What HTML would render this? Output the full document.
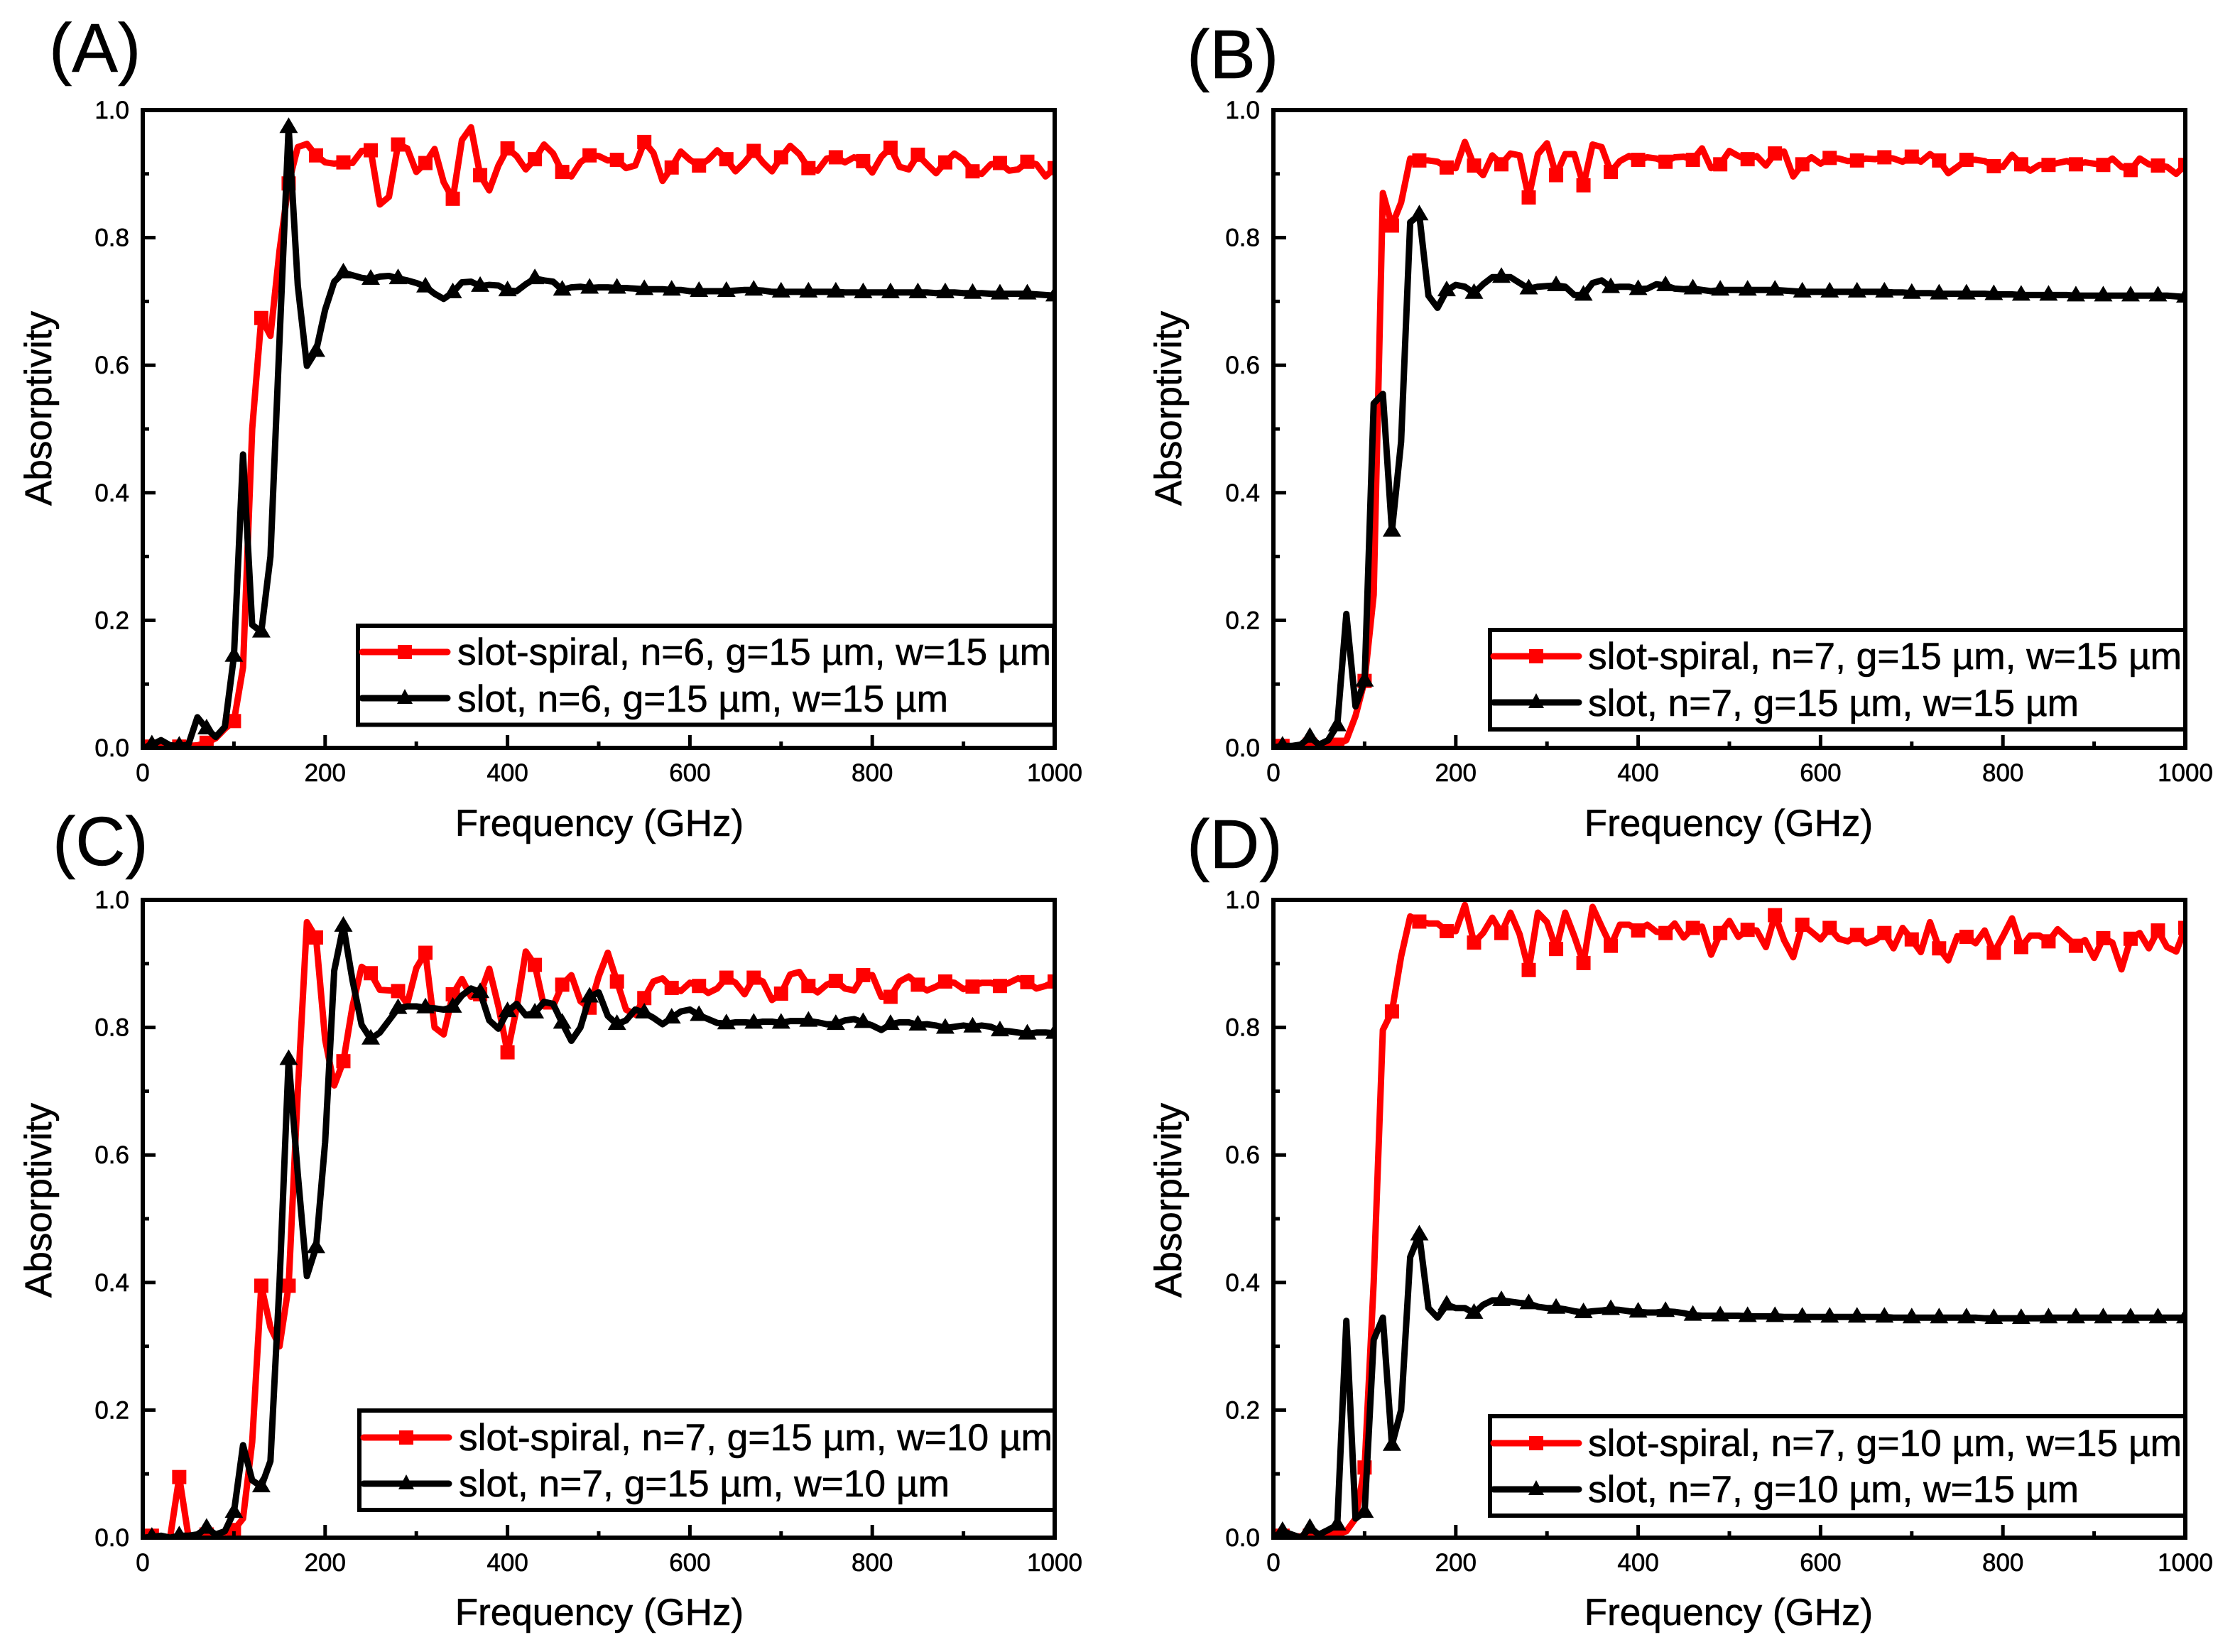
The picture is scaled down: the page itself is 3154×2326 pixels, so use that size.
<!DOCTYPE html>
<html lang="en">
<head>
<meta charset="utf-8">
<title>Absorptivity vs frequency, four panels</title>
<style>
html,body{margin:0;padding:0;background:#fff}
svg{display:block}
text{font-family:"Liberation Sans",Arial,sans-serif;fill:#000;stroke:#000;stroke-width:.6px}
.panel-label{font-size:97px}
.axis-title{font-size:53px}
.legend-text{font-size:53.3px}
.tick-label{font-size:35px}
.legend-box{fill:#fff;stroke:#000;stroke-width:6}
.leg-line{stroke-width:9;stroke-linecap:round}
</style>
</head>
<body>
<svg id="figure" xmlns="http://www.w3.org/2000/svg" width="3154" height="2326" viewBox="0 0 3154 2326">
<rect width="3154" height="2326" fill="#fff"/>
<defs>
<clipPath id="clip-a"><rect x="201" y="155" width="1284" height="898"/></clipPath>
<clipPath id="clip-b"><rect x="1793" y="155" width="1284" height="898"/></clipPath>
<clipPath id="clip-c"><rect x="201" y="1267" width="1284" height="898"/></clipPath>
<clipPath id="clip-d"><rect x="1793" y="1267" width="1284" height="898"/></clipPath>
</defs>

<g id="panel-a">
<g class="plot-layer"></g>
<text class="panel-label" x="69" y="101">(A)</text>
<text class="axis-title" x="844" y="1177" text-anchor="middle">Frequency (GHz)</text>
<text class="axis-title" transform="translate(72 575) rotate(-90)" text-anchor="middle">Absorptivity</text>
<g>
<rect class="legend-box" x="504" y="881" width="980" height="139.5"/>
<line class="leg-line" x1="510" y1="918" x2="630" y2="918" stroke="#f00"/>
<rect x="560" y="908" width="20" height="20" fill="#f00"/>
<text class="legend-text" x="644" y="936">slot-spiral, n=6, g=15 µm, w=15 µm</text>
<line class="leg-line" x1="510" y1="983" x2="630" y2="983" stroke="#000"/>
<polygon points="570,970 559,991 581,991" fill="#000"/>
<text class="legend-text" x="644" y="1002">slot, n=6, g=15 µm, w=15 µm</text>
</g>
</g>

<g id="panel-b">
<g class="plot-layer"></g>
<text class="panel-label" x="1671" y="110">(B)</text>
<text class="axis-title" x="2434" y="1177" text-anchor="middle">Frequency (GHz)</text>
<text class="axis-title" transform="translate(1663 575) rotate(-90)" text-anchor="middle">Absorptivity</text>
<g>
<rect class="legend-box" x="2098" y="887" width="979" height="140"/>
<line class="leg-line" x1="2103" y1="924" x2="2223" y2="924" stroke="#f00"/>
<rect x="2153" y="914" width="20" height="20" fill="#f00"/>
<text class="legend-text" x="2236" y="942">slot-spiral, n=7, g=15 µm, w=15 µm</text>
<line class="leg-line" x1="2103" y1="989" x2="2223" y2="989" stroke="#000"/>
<polygon points="2163,976 2152,997 2174,997" fill="#000"/>
<text class="legend-text" x="2236" y="1008">slot, n=7, g=15 µm, w=15 µm</text>
</g>
</g>

<g id="panel-c">
<g class="plot-layer"></g>
<text class="panel-label" x="74" y="1218">(C)</text>
<text class="axis-title" x="844" y="2288" text-anchor="middle">Frequency (GHz)</text>
<text class="axis-title" transform="translate(72 1690) rotate(-90)" text-anchor="middle">Absorptivity</text>
<g>
<rect class="legend-box" x="506" y="1986" width="979" height="140"/>
<line class="leg-line" x1="512" y1="2024" x2="632" y2="2024" stroke="#f00"/>
<rect x="562" y="2014" width="20" height="20" fill="#f00"/>
<text class="legend-text" x="646" y="2042">slot-spiral, n=7, g=15 µm, w=10 µm</text>
<line class="leg-line" x1="512" y1="2089" x2="632" y2="2089" stroke="#000"/>
<polygon points="572,2076 561,2097 583,2097" fill="#000"/>
<text class="legend-text" x="646" y="2107">slot, n=7, g=15 µm, w=10 µm</text>
</g>
</g>

<g id="panel-d">
<g class="plot-layer"></g>
<text class="panel-label" x="1671" y="1222">(D)</text>
<text class="axis-title" x="2434" y="2288" text-anchor="middle">Frequency (GHz)</text>
<text class="axis-title" transform="translate(1663 1690) rotate(-90)" text-anchor="middle">Absorptivity</text>
<g>
<rect class="legend-box" x="2098" y="1994" width="979" height="140"/>
<line class="leg-line" x1="2103" y1="2032" x2="2223" y2="2032" stroke="#f00"/>
<rect x="2153" y="2022" width="20" height="20" fill="#f00"/>
<text class="legend-text" x="2236" y="2050">slot-spiral, n=7, g=10 µm, w=15 µm</text>
<line class="leg-line" x1="2103" y1="2097" x2="2223" y2="2097" stroke="#000"/>
<polygon points="2163,2084 2152,2105 2174,2105" fill="#000"/>
<text class="legend-text" x="2236" y="2115">slot, n=7, g=10 µm, w=15 µm</text>
</g>
</g>
</svg>

<script>
const frequencies = [
0,10,20,30,40,50,60,70,80,90,
100,110,120,130,140,150,160,170,180,190,
200,210,220,230,240,250,260,270,280,290,
300,310,320,330,340,350,360,370,380,390,
400,410,420,430,440,450,460,470,480,490,
500,510,520,530,540,550,560,570,580,590,
600,610,620,630,640,650,660,670,680,690,
700,710,720,730,740,750,760,770,780,790,
800,810,820,830,840,850,860,870,880,890,
900,910,920,930,940,950,960,970,980,990,
1000];

const panelASlotSpiral = [
.000,.002,.001,.001,.002,.003,.004,.008,.015,.030,
.042,.126,.500,.674,.646,.780,.885,.942,.947,.929,
.918,.916,.918,.917,.936,.937,.852,.864,.946,.940,
.903,.917,.939,.887,.861,.953,.973,.898,.874,.913,
.940,.928,.907,.923,.946,.932,.903,.896,.918,.929,
.928,.921,.922,.909,.913,.950,.933,.889,.910,.935,
.922,.913,.922,.937,.923,.904,.918,.936,.918,.904,
.926,.944,.931,.909,.905,.924,.926,.918,.926,.920,
.902,.927,.941,.911,.907,.930,.915,.901,.918,.932,
.922,.904,.900,.915,.917,.905,.907,.919,.915,.896,
.909];
const panelASlot = [
.000,.005,.012,.004,.003,.005,.048,.030,.017,.033,
.144,.460,.193,.182,.300,.640,.973,.725,.599,.622,
.687,.731,.745,.741,.737,.735,.739,.740,.736,.733,
.729,.723,.712,.704,.714,.730,.731,.724,.726,.725,
.717,.716,.727,.736,.733,.731,.718,.722,.723,.721,
.722,.722,.721,.721,.720,.719,.719,.719,.718,.718,
.716,.716,.716,.716,.716,.717,.718,.718,.717,.715,
.715,.715,.715,.715,.715,.715,.715,.714,.714,.714,
.714,.714,.714,.714,.714,.714,.714,.713,.714,.714,
.713,.713,.713,.712,.712,.712,.712,.712,.711,.710,
.709];
const panelBSlotSpiral = [
.001,.003,.002,.002,.005,.003,.003,.005,.012,.050,
.105,.240,.870,.819,.855,.924,.921,.921,.919,.910,
.909,.950,.913,.898,.929,.915,.932,.929,.863,.931,
.948,.898,.931,.931,.882,.946,.942,.903,.920,.928,
.922,.926,.924,.919,.926,.927,.922,.940,.909,.915,
.936,.928,.923,.928,.913,.932,.935,.896,.915,.926,
.916,.925,.924,.920,.921,.924,.923,.926,.924,.919,
.927,.919,.931,.921,.901,.911,.922,.922,.920,.912,
.911,.930,.915,.905,.914,.914,.917,.920,.915,.918,
.916,.914,.924,.911,.906,.924,.915,.913,.911,.900,
.914];
const panelBSlot = [
.001,.003,.003,.005,.017,.005,.012,.035,.210,.065,
.105,.540,.555,.340,.480,.824,.836,.709,.690,.717,
.726,.723,.713,.727,.738,.738,.738,.729,.720,.723,
.724,.725,.723,.710,.710,.729,.733,.722,.723,.723,
.719,.720,.727,.725,.720,.719,.720,.718,.716,.718,
.718,.718,.718,.718,.718,.718,.717,.716,.715,.715,
.715,.715,.715,.715,.715,.715,.715,.715,.714,.714,
.713,.713,.713,.712,.712,.712,.712,.712,.712,.711,
.711,.711,.710,.710,.710,.710,.710,.710,.709,.709,
.709,.709,.709,.709,.709,.709,.709,.709,.709,.708,
.707];
const panelCSlotSpiral = [
.001,.003,.000,.000,.095,.003,.000,.005,.005,.008,
.012,.030,.150,.395,.330,.300,.395,.700,.965,.941,
.781,.709,.747,.833,.895,.885,.859,.858,.857,.837,
.893,.917,.800,.789,.852,.876,.848,.852,.892,.833,
.761,.830,.919,.898,.833,.833,.867,.882,.841,.831,
.880,.917,.872,.828,.820,.846,.872,.877,.862,.857,
.870,.865,.854,.861,.878,.870,.852,.878,.872,.843,
.853,.883,.887,.865,.855,.867,.873,.861,.858,.882,
.882,.848,.848,.872,.880,.867,.858,.864,.872,.870,
.860,.864,.870,.870,.865,.870,.877,.871,.861,.865,
.872];
const panelCSlot = [
.000,.001,.003,.000,.003,.003,.005,.015,.005,.010,
.040,.145,.090,.080,.120,.400,.750,.570,.410,.455,
.620,.889,.959,.874,.804,.782,.792,.811,.830,.833,
.833,.831,.830,.828,.832,.850,.861,.855,.811,.798,
.825,.837,.819,.823,.840,.837,.807,.779,.800,.848,
.855,.818,.805,.811,.828,.823,.815,.805,.815,.825,
.828,.819,.813,.807,.806,.808,.808,.807,.809,.809,
.807,.810,.810,.810,.808,.805,.805,.811,.813,.808,
.803,.796,.805,.808,.808,.804,.805,.803,.799,.801,
.803,.801,.803,.801,.795,.794,.792,.790,.792,.792,
.791];
const panelDSlotSpiral = [
.002,.003,.002,.002,.003,.003,.004,.006,.010,.030,
.110,.400,.796,.825,.911,.974,.966,.963,.963,.951,
.951,.992,.933,.948,.972,.948,.980,.946,.890,.980,
.965,.923,.980,.943,.901,.989,.958,.928,.961,.961,
.952,.961,.950,.948,.963,.941,.956,.958,.914,.948,
.967,.942,.953,.952,.926,.976,.937,.910,.961,.950,
.938,.956,.939,.935,.945,.932,.937,.948,.924,.956,
.938,.918,.965,.924,.905,.943,.942,.932,.952,.917,
.943,.971,.926,.944,.944,.935,.954,.941,.928,.937,
.909,.940,.933,.891,.939,.948,.924,.952,.926,.919,
.956];
const panelDSlot = [
.000,.010,.005,.000,.015,.005,.012,.020,.340,.030,
.040,.310,.345,.145,.200,.440,.475,.360,.345,.365,
.360,.360,.352,.365,.372,.372,.370,.368,.367,.362,
.360,.360,.358,.355,.353,.355,.356,.358,.357,.355,
.354,.353,.353,.355,.354,.352,.349,.348,.348,.348,
.348,.348,.347,.347,.347,.347,.346,.346,.346,.346,
.346,.346,.346,.346,.346,.346,.346,.346,.345,.345,
.345,.345,.345,.345,.345,.345,.345,.345,.344,.344,
.344,.344,.344,.344,.344,.345,.345,.345,.345,.345,
.345,.345,.345,.345,.345,.345,.345,.345,.345,.345,
.345];

const xMajorTicks = [0,200,400,600,800,1000];
const xMinorTicks = [100,300,500,700,900];
const yMajorTicks = ["0.0","0.2","0.4","0.6","0.8","1.0"];
const yMinorTicks = [0.1,0.3,0.5,0.7,0.9];
const xDomain = [0,1000];
const yDomain = [0,1];

const NS = "http://www.w3.org/2000/svg";
const frames = {
  a:{left:201,right:1485,top:155,bottom:1053},
  b:{left:1793,right:3077,top:155,bottom:1053},
  c:{left:201,right:1485,top:1267,bottom:2165},
  d:{left:1793,right:3077,top:1267,bottom:2165}
};
const panelSeries = {
  a:[panelASlotSpiral,panelASlot],
  b:[panelBSlotSpiral,panelBSlot],
  c:[panelCSlotSpiral,panelCSlot],
  d:[panelDSlotSpiral,panelDSlot]
};

function xScale(frame,f){return frame.left+(f-xDomain[0])/(xDomain[1]-xDomain[0])*(frame.right-frame.left);}
function yScale(frame,v){return frame.bottom-(v-yDomain[0])/(yDomain[1]-yDomain[0])*(frame.bottom-frame.top);}

function make(tag,attrs,parent){
  const el=document.createElementNS(NS,tag);
  for(const k in attrs){el.setAttribute(k,attrs[k]);}
  parent.appendChild(el);
  return el;
}

function drawSeries(key,frame,values,color,kind,parent){
  const group=make("g",{"clip-path":"url(#clip-"+key+")"},parent);
  
  
  const pts=values.map(function(v,i){return xScale(frame,frequencies[i]).toFixed(1)+","+yScale(frame,v).toFixed(1);}).join(" ");
  const line=make("polyline",{points:pts,fill:"none",stroke:color,"stroke-width":9,"stroke-linejoin":"round","stroke-linecap":"round"},group);
  
  
  values.forEach(function(v,i){
    if(i%3!==1){return;}
    const x=xScale(frame,frequencies[i]);
    const y=yScale(frame,v);
    let marker;
    if(kind==="slot-spiral"){
      marker=make("rect",{x:x-10,y:y-10,width:20,height:20,fill:color},group);
    }else{
      marker=make("polygon",{points:x+","+(y-14)+" "+(x-13)+","+(y+8)+" "+(x+13)+","+(y+8),fill:color},group);
    }
    
    
  });
}

function drawAxes(key,frame,parent){
  const axes=make("g",{},parent);
  
  
  const box=make("rect",{x:frame.left,y:frame.top,width:frame.right-frame.left,height:frame.bottom-frame.top,fill:"none",stroke:"#000","stroke-width":6},axes);
  
  
  xMajorTicks.forEach(function(t){
    const x=xScale(frame,t);
    const tick=make("line",{x1:x,x2:x,y1:frame.bottom,y2:frame.bottom-18,stroke:"#000","stroke-width":5},axes);
    
    
    const label=make("text",{x:x,y:frame.bottom+47,"text-anchor":"middle","class":"tick-label"},axes);
    label.textContent=String(t);
    
    
  });
  xMinorTicks.forEach(function(t){
    const x=xScale(frame,t);
    const tick=make("line",{x1:x,x2:x,y1:frame.bottom,y2:frame.bottom-9,stroke:"#000","stroke-width":5},axes);
    
    
  });
  yMajorTicks.forEach(function(t){
    const y=yScale(frame,parseFloat(t));
    const tick=make("line",{x1:frame.left,x2:frame.left+18,y1:y,y2:y,stroke:"#000","stroke-width":5},axes);
    
    
    const label=make("text",{x:frame.left-19,y:y+12,"text-anchor":"end","class":"tick-label"},axes);
    label.textContent=t;
    
    
  });
  yMinorTicks.forEach(function(t){
    const y=yScale(frame,t);
    const tick=make("line",{x1:frame.left,x2:frame.left+9,y1:y,y2:y,stroke:"#000","stroke-width":5},axes);
    
    
  });
}

Object.keys(frames).forEach(function(key){
  const frame=frames[key];
  const layer=document.querySelector("#panel-"+key+" .plot-layer");
  drawSeries(key,frame,panelSeries[key][0],"#f00","slot-spiral",layer);
  drawSeries(key,frame,panelSeries[key][1],"#000","slot",layer);
  drawAxes(key,frame,layer);
});
</script>
</body>
</html>
